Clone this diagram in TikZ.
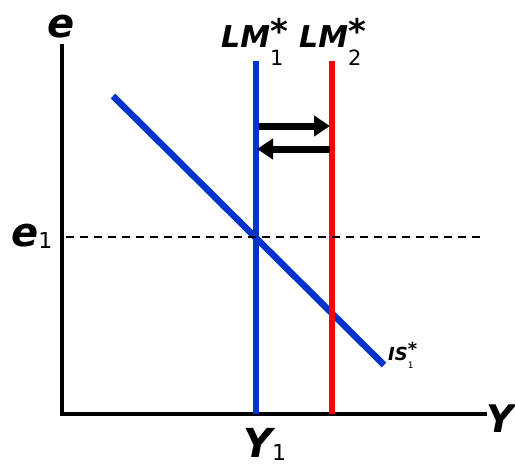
\documentclass[tikz,border=0pt]{standalone}
\usepackage{fontspec}
\setsansfont{DejaVu Sans}
\usetikzlibrary{arrows.meta}
\newcommand{\fs}[1]{\fontsize{#1}{#1}\selectfont}
\newcommand{\lowsub}[3]{\raisebox{#2}{\fs{#1}\normalfont\sffamily #3}}
\definecolor{lmblue}{RGB}{0,51,204}
\definecolor{lmred}{RGB}{255,0,0}

\begin{document}
\begin{tikzpicture}[x=1pt, y=-1pt, font=\sffamily,
  lbl/.style={anchor=base west, inner sep=0pt, font=\sffamily\bfseries\itshape},
  curve/.style={line width=6.5pt},
  shiftarrow/.style={line width=7pt, -{Triangle[length=16pt, width=20pt]}}]
% x, y in pixels of the 515 x 466 frame, y grows downward
\useasboundingbox (0,0) rectangle (515,466);
\coordinate (O) at (62,414);
\coordinate (etop) at (62,44);
\coordinate (Yend) at (487,414);
\draw[line width=3.3pt] (etop) -- (O) -- (Yend);
\foreach \n/\x/\c in {1/256/lmblue, 2/332/lmred} {
  \coordinate (lm\n top) at (\x,61);
  \coordinate (lm\n bot) at (\x,414);
}
\draw[curve, lmblue] (lm1top) -- (lm1bot);
\coordinate (is1) at (113,96);
\coordinate (is2) at (384,365);
\draw[curve, lmblue] (is1) -- (is2);
\draw[curve, lmred] (lm2top) -- (lm2bot);
\coordinate (d1) at (66,237);
\coordinate (d2) at (483,237);
\draw[line width=1.4pt, dash pattern=on 8pt off 6pt] (d1) -- (d2);
% the shift from LM*_1 to LM*_2 and back
\coordinate (a1) at (259,126);
\coordinate (a2) at (330,126);
\coordinate (b1) at (330,149);
\coordinate (b2) at (257,149);
\draw[shiftarrow] (a1) -- (a2);
\draw[shiftarrow] (b1) -- (b2);
\node[lbl, font=\fs{40}\sffamily\bfseries\itshape] (elbl) at (47,37) {e};
\node[lbl, font=\fs{40}\sffamily\bfseries\itshape] (e1lbl) at (11,246) {e\lowsub{22}{-2pt}{1}};
\node[lbl, font=\fs{30}\sffamily\bfseries\itshape] (lm1lbl) at (221,47) {LM\rlap{\lowsub{21}{-18pt}{1}}\raisebox{4pt}{\fs{34}*}};
\node[lbl, font=\fs{30}\sffamily\bfseries\itshape] (lm2lbl) at (299,47) {LM\rlap{\lowsub{21}{-18pt}{2}}\raisebox{4pt}{\fs{34}*}};
\node[lbl, font=\fs{38}\sffamily\bfseries\itshape] (Ylbl) at (486,432) {Y};
\node[lbl, font=\fs{40}\sffamily\bfseries\itshape] (Y1lbl) at (243,457) {Y\lowsub{22}{-3pt}{1}};
\node[lbl, font=\fs{18}\sffamily\bfseries\itshape] (islbl) at (388,360) {IS\rlap{\lowsub{9}{-8pt}{1}}\raisebox{5pt}{\fs{18}*}};
\end{tikzpicture}
\end{document}
